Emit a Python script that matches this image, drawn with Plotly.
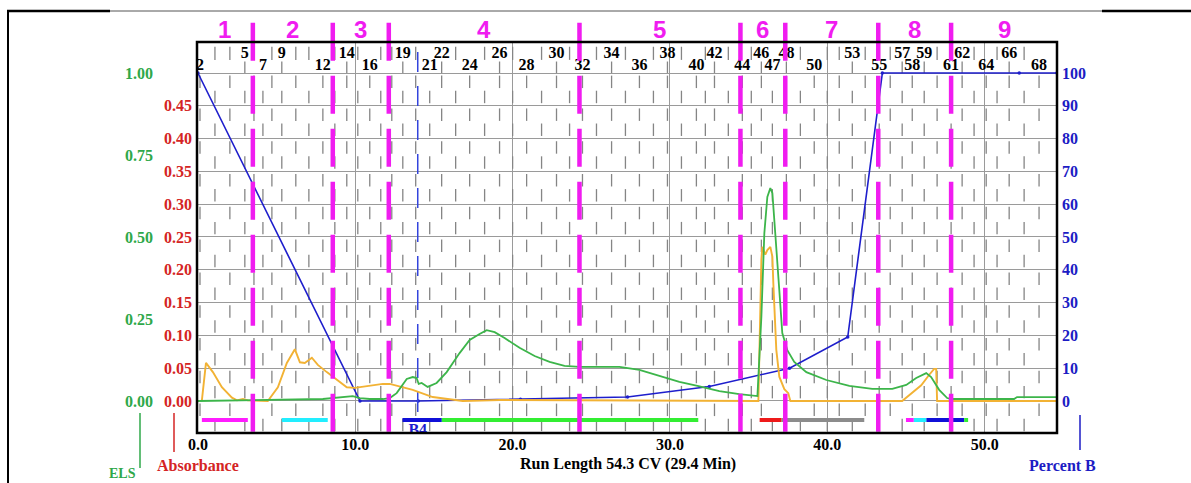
import plotly.graph_objects as go

# ---------------- data ----------------
cv_range = [-0.06, 54.6]
pb_range = [-9.76, 109.45]          # Percent B axis range
abs_per_pb = 0.005                   # Absorbance units per %B
els_per_pb = 0.01                    # ELS units per %B

grad_cv = [0.0, 10.3, 14.0, 20.5, 27.3, 32.5, 37.6, 41.3, 43.5, 52.2, 54.6]
grad_pb = [100, 0, 0, 0.5, 1.2, 4.4, 10.0, 19.5, 100, 100, 100]

abs_cv = [0.25, 0.51, 0.95, 1.52, 2.16, 2.48, 2.86, 3.17, 4.44, 5.08, 5.65, 6.16, 6.48, 6.79,
          7.24, 7.62, 8.19, 8.83, 9.46, 9.97, 10.92, 11.75, 12.19, 13.65, 14.92, 16.83, 19.2,
          23.0, 27.5, 31.0, 35.62, 35.81, 35.87, 36.06, 36.19, 36.38, 36.51, 36.57, 36.76,
          36.95, 37.27, 37.52, 37.65, 44.76, 45.40, 45.97, 46.48, 46.79, 46.92, 46.98, 54.6]
abs_val = [0.001, 0.058, 0.044, 0.021, 0.005, 0.001, 0.003, 0.001, 0.0, 0.021, 0.058, 0.079,
           0.059, 0.058, 0.066, 0.055, 0.044, 0.032, 0.021, 0.020, 0.023, 0.026, 0.026, 0.017,
           0.006, 0.0, 0.0015, 0.001, 0.0015, 0.001, 0.0, 0.215, 0.235, 0.223, 0.230, 0.235,
           0.220, 0.180, 0.078, 0.037, 0.018, 0.012, 0.0, 0.0, 0.012, 0.024, 0.040, 0.049,
           0.049, 0.0, 0.0]

els_cv = [0.0, 7.94, 9.84, 10.29, 10.92, 11.75, 12.19, 12.63, 13.27, 13.65, 13.90, 14.03, 14.22,
          14.60, 15.17, 15.81, 16.63, 17.27, 17.90, 18.35, 18.86, 19.49, 20.44, 21.40, 22.35,
          23.30, 24.25, 25.52, 26.79, 28.06, 29.33, 30.60, 31.75, 33.14, 34.41, 35.56, 35.81,
          36.00, 36.19, 36.38, 36.51, 36.63, 36.76, 36.95, 37.14, 37.46, 37.90, 38.67, 39.94,
          41.40, 42.86, 44.13, 45.02, 45.65, 46.29, 46.60, 47.11, 47.62, 47.87, 51.87, 52.06, 54.6]
els_val = [0.0, 0.006, 0.015, 0.009, 0.006, 0.006, 0.009, 0.024, 0.067, 0.073, 0.070, 0.052,
           0.055, 0.043, 0.055, 0.088, 0.146, 0.186, 0.204, 0.216, 0.210, 0.192, 0.162, 0.137,
           0.119, 0.107, 0.104, 0.104, 0.104, 0.095, 0.076, 0.058, 0.046, 0.030, 0.021, 0.015,
           0.256, 0.512, 0.622, 0.649, 0.634, 0.561, 0.460, 0.338, 0.207, 0.155, 0.119, 0.088,
           0.064, 0.046, 0.037, 0.037, 0.049, 0.070, 0.085, 0.073, 0.034, 0.009, 0.006, 0.006,
           0.012, 0.012]

tube_no = list(range(2, 69))
tube_cv = [0.13, 1.08, 2.03, 2.98, 3.56, 4.13, 4.70, 5.33, 6.22, 7.05, 7.94, 8.70, 9.46, 10.16,
           10.92, 11.62, 12.32, 13.02, 13.84, 14.73, 15.49, 16.38, 17.27, 18.22, 19.17, 20.00,
           20.89, 21.84, 22.79, 23.62, 24.44, 25.33, 26.29, 27.17, 28.06, 28.95, 29.84, 30.73,
           31.68, 32.25, 32.83, 33.71, 34.60, 35.17, 35.81, 36.51, 37.40, 38.29, 39.17, 40.00,
           40.76, 41.59, 42.41, 43.30, 44.00, 44.76, 45.40, 46.16, 46.98, 47.87, 48.57, 49.33,
           50.10, 50.79, 51.56, 52.51, 53.46]
tube_top_row = [5, 9, 14, 19, 22, 26, 30, 34, 38, 42, 46, 48, 53, 57, 59, 62, 66]
tube_bottom_row = [2, 7, 12, 16, 21, 24, 28, 32, 36, 40, 44, 47, 50, 55, 58, 61, 64, 68]

frac_div_cv = [3.49, 8.57, 12.13, 24.25, 34.48, 37.33, 43.24, 47.87]
frac_names = ["1", "2", "3", "4", "5", "6", "7", "8", "9"]

bar_start = [0.25, 5.33, 13.0, 15.5, 35.7, 37.1, 45.0, 45.5, 46.3, 48.7]
bar_end = [3.17, 8.25, 15.5, 31.8, 37.1, 42.35, 45.5, 46.3, 48.7, 48.95]
bar_color = ["#ff1cff", "#22eeff", "#1010d8", "#33ee33", "#ee1a1a", "#8c8c8c",
             "#ff1cff", "#22eeff", "#1010d8", "#33ee33"]
bar_pb = -5.8

b4_cv = 13.97

x_ticks = [0, 10, 20, 30, 40, 50]
pb_ticks = [0, 10, 20, 30, 40, 50, 60, 70, 80, 90, 100]
abs_ticks = [0.0, 0.05, 0.10, 0.15, 0.20, 0.25, 0.30, 0.35, 0.40, 0.45]
els_ticks = [0.0, 0.25, 0.50, 0.75, 1.00]

# ---------------- layout geometry ----------------
W, H = 1191, 483
ML, MR, MT, MB = 60, 134, 42, 50
PW, PH = W - ML - MR, H - MT - MB
d0 = (197 - ML) / PW


def pxx(px):
    return (px - ML) / PW


def pxy(py):
    return (H - MB - py) / PH


SERIF = "Liberation Serif, Times New Roman, serif"
SANS = "Liberation Sans, Arial, sans-serif"
MAG = "#f01cf0"
GREEN_T = "#2fa84a"
RED_T = "#d42424"
BLUE_T = "#1c1cc4"

fig = go.Figure()

# brick-pattern tube grid dashes
gx, gy = [], []
for i, (n, c) in enumerate(zip(tube_no, tube_cv)):
    p = i % 2
    for top in pb_ticks:
        gx += [c, c, None]
        gy += [top - 0.8 - p * 4.6, top - 4.6 - p * 4.6, None]
    if n in tube_top_row:
        gx += [c, c, None]
        gy += [100, 103.5, None]
    elif n not in tube_bottom_row:
        gx += [c, c, None]
        gy += [104, 108, None]
fig.add_trace(go.Scatter(x=gx, y=gy, mode="lines", line=dict(color="#858585", width=1.3),
                         hoverinfo="skip", showlegend=False))

# ELS
fig.add_trace(go.Scatter(x=els_cv, y=els_val, yaxis="y3", mode="lines",
                         line=dict(color="#3cb54a", width=1.8), showlegend=False))
# Absorbance
fig.add_trace(go.Scatter(x=abs_cv, y=abs_val, yaxis="y2", mode="lines",
                         line=dict(color="#f2b234", width=1.9), showlegend=False))
# Gradient
fig.add_trace(go.Scatter(x=grad_cv, y=grad_pb, mode="lines+markers",
                         line=dict(color="#1e1ecc", width=1.6),
                         marker=dict(size=3.5, color="#1e1ecc"), showlegend=False))

# fraction bars
for s, e, col in zip(bar_start, bar_end, bar_color):
    fig.add_trace(go.Scatter(x=[s, e], y=[bar_pb, bar_pb], mode="lines",
                             line=dict(color=col, width=4), showlegend=False))

# B4 marker line and text
fig.add_trace(go.Scatter(x=[b4_cv, b4_cv], y=[106.4, -6.4], mode="lines",
                         line=dict(color="#3344dd", width=1.5, dash="20px,14px"),
                         showlegend=False))
fig.add_trace(go.Scatter(x=[b4_cv], y=[-9.1], mode="text", text=["B4"],
                         textfont=dict(family=SERIF, size=16, color="#1c1cd0", weight="bold"),
                         textposition="middle center", showlegend=False))

# tube labels
top_x = [tube_cv[tube_no.index(n)] for n in tube_top_row]
bot_x = [tube_cv[tube_no.index(n)] for n in tube_bottom_row]
fig.add_trace(go.Scatter(x=top_x, y=[105.9] * len(top_x), mode="text",
                         text=[str(n) for n in tube_top_row],
                         textfont=dict(family=SERIF, size=16, color="black", weight="bold"),
                         showlegend=False))
fig.add_trace(go.Scatter(x=bot_x, y=[102.0] * len(bot_x), mode="text",
                         text=[str(n) for n in tube_bottom_row],
                         textfont=dict(family=SERIF, size=16, color="black", weight="bold"),
                         showlegend=False))

shapes = []
# magenta fraction dividers
for c in frac_div_cv:
    shapes.append(dict(type="line", xref="x", yref="paper", x0=c, x1=c,
                       y0=pxy(22.7), y1=pxy(436), line=dict(color=MAG, width=4.5,
                                                            dash="38px,15px")))
# plot border
shapes.append(dict(type="rect", xref="paper", yref="paper", x0=d0, x1=1, y0=0, y1=1,
                   line=dict(color="black", width=2.5)))
# outer frame
shapes.append(dict(type="line", xref="paper", yref="paper", x0=pxx(8), x1=pxx(8),
                   y0=pxy(10), y1=pxy(490), line=dict(color="black", width=2)))
shapes.append(dict(type="line", xref="paper", yref="paper", x0=pxx(7), x1=pxx(110),
                   y0=pxy(11), y1=pxy(11), line=dict(color="black", width=2.5)))
shapes.append(dict(type="line", xref="paper", yref="paper", x0=pxx(110), x1=pxx(1102),
                   y0=pxy(11), y1=pxy(11), line=dict(color="#555555", width=1)))
shapes.append(dict(type="line", xref="paper", yref="paper", x0=pxx(1102), x1=pxx(1191),
                   y0=pxy(11), y1=pxy(11), line=dict(color="black", width=2.5)))
# axis marker lines below
shapes.append(dict(type="line", xref="paper", yref="paper", x0=pxx(140), x1=pxx(140),
                   y0=pxy(413), y1=pxy(468), line=dict(color=GREEN_T, width=1.5)))
shapes.append(dict(type="line", xref="paper", yref="paper", x0=pxx(174), x1=pxx(174),
                   y0=pxy(413), y1=pxy(452), line=dict(color=RED_T, width=1.5)))
shapes.append(dict(type="line", xref="paper", yref="paper", x0=pxx(1080), x1=pxx(1080),
                   y0=pxy(415), y1=pxy(450), line=dict(color=BLUE_T, width=1.5)))

annotations = []
bounds = [cv_range[0]] + frac_div_cv + [cv_range[1]]
for k, name in enumerate(frac_names):
    mid = (bounds[k] + bounds[k + 1]) / 2
    annotations.append(dict(x=mid, y=pxy(29.5), xref="x", yref="paper", text=name,
                            showarrow=False, yanchor="middle", xanchor="center",
                            font=dict(family=SANS, size=24, color=MAG, weight="bold")))
annotations.append(dict(x=pxx(628), y=pxy(464), xref="paper", yref="paper",
                        text="Run Length 54.3 CV (29.4 Min)", showarrow=False,
                        yanchor="middle", xanchor="center",
                        font=dict(family=SERIF, size=16, color="black", weight="bold")))
annotations.append(dict(x=pxx(198), y=pxy(465), xref="paper", yref="paper",
                        text="Absorbance", showarrow=False, yanchor="middle",
                        xanchor="center",
                        font=dict(family=SERIF, size=16, color=RED_T, weight="bold")))
annotations.append(dict(x=pxx(122), y=pxy(483), xref="paper", yref="paper",
                        text="ELS", showarrow=False, yanchor="bottom", xanchor="center",
                        font=dict(family=SERIF, size=14, color=GREEN_T, weight="bold")))
annotations.append(dict(x=pxx(1027), y=pxy(465), xref="paper", yref="paper",
                        text="Percent B", showarrow=False, yanchor="middle", xanchor="left",
                        font=dict(family=SERIF, size=16, color=BLUE_T, weight="bold")))

fig.update_layout(
    width=W, height=H,
    margin=dict(l=ML, r=MR, t=MT, b=MB, pad=0),
    paper_bgcolor="white", plot_bgcolor="white",
    showlegend=False,
    xaxis=dict(domain=[d0, 1], range=cv_range, tickvals=x_ticks,
               ticktext=["%.1f" % v for v in x_ticks], showgrid=True,
               gridcolor="#9a9a9a", gridwidth=1.3, zeroline=False, showline=False,
               ticks="", ticklabelstandoff=0,
               tickfont=dict(family=SERIF, size=16, color="black", weight="bold")),
    yaxis=dict(range=pb_range, side="right", anchor="x", tickvals=pb_ticks,
               ticktext=[str(v) for v in pb_ticks], showgrid=True, gridcolor="#9a9a9a",
               gridwidth=1.3, zeroline=False, showline=False, ticks="", ticklabelstandoff=4,
               tickfont=dict(family=SERIF, size=16, color=BLUE_T, weight="bold")),
    yaxis2=dict(range=[pb_range[0] * abs_per_pb, pb_range[1] * abs_per_pb], overlaying="y",
                side="left", anchor="x", tickvals=abs_ticks,
                ticktext=["%.2f" % v for v in abs_ticks], showgrid=False, zeroline=False,
                showline=False, ticks="", ticklabelstandoff=4,
                tickfont=dict(family=SERIF, size=16, color=RED_T, weight="bold")),
    yaxis3=dict(range=[pb_range[0] * els_per_pb, pb_range[1] * els_per_pb], overlaying="y",
                side="left", anchor="free", position=pxx(153), tickvals=els_ticks,
                ticktext=["%.2f" % v for v in els_ticks], showgrid=False, zeroline=False,
                showline=False, ticks="",
                tickfont=dict(family=SERIF, size=16, color=GREEN_T, weight="bold")),
    shapes=shapes,
    annotations=annotations,
)

fig.write_html("out.html")
